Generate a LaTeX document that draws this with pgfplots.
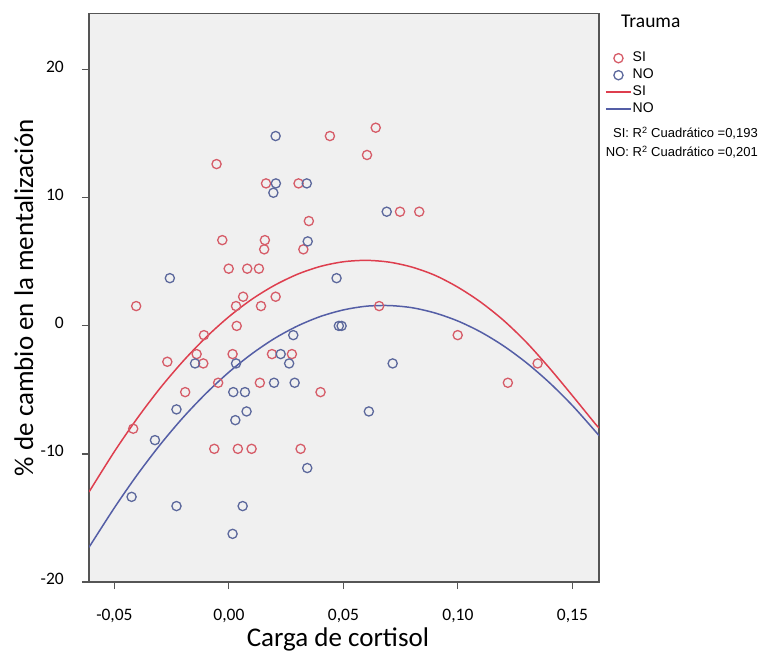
\documentclass[border=0pt]{standalone}
\usepackage{pgfplots}
\pgfplotsset{compat=1.18}
\usepackage{fontspec}
\setmainfont{Carlito}
\newfontfamily\arial{Liberation Sans}
\definecolor{ptred}{RGB}{214,92,104}
\definecolor{ptblue}{RGB}{92,104,156}
\definecolor{lnred}{RGB}{222,62,78}
\definecolor{lnblue}{RGB}{84,94,166}
\definecolor{bgc}{RGB}{240,240,240}
\definecolor{framec}{RGB}{85,85,85}
\begin{document}
\begin{tikzpicture}
\path[use as bounding box] (0,0) rectangle (759bp,654bp);
\begin{axis}[
  at={(89bp,72bp)}, anchor=south west,
  scale only axis, width=510bp, height=568.5bp,
  xmin=-0.0611, xmax=0.1616, ymin=-20, ymax=24.4,
  axis background/.style={fill=bgc},
  axis line style={framec, line width=1.1pt},
  xtick={-0.05,0,0.05,0.10,0.15},
  xticklabels={{-0,05},{0,00},{0,05},{0,10},{0,15}},
  ytick={-20,-10,0,10,20},
  yticklabels={{-20},{-10},{0},{10},{20}},
  xtick pos=bottom, ytick pos=left,
  tick align=outside, major tick length=7bp,
  tick style={framec, line width=1.1pt},
  ticklabel style={font=\fontsize{17.5bp}{20bp}\selectfont},
  xticklabel style={anchor=base, inner sep=0pt, yshift=-31bp},
  yticklabel style={anchor=east, inner sep=0pt, xshift=-18bp, yshift=3bp},
  xlabel={Carga de cortisol},
  ylabel={\% de cambio en la mentalización},
  label style={font=\fontsize{27bp}{30bp}\selectfont},
  xlabel style={at={(axis description cs:0.488,-0.1143)}, anchor=base, inner sep=0pt},
  ylabel style={at={(axis description cs:-0.1098,0.5)}, anchor=base, inner sep=0pt},
  legend image code/.code={\draw[mark repeat=2,mark phase=2,#1] plot coordinates {(0bp,0bp) (12.5bp,0bp) (25bp,0bp)};},
  legend style={at={(axis description cs:1.0118,0.934)}, anchor=north west,
    draw=none, fill=none, inner sep=0pt, row sep=3bp,
    font=\arial\fontsize{14bp}{15bp}\selectfont,
    nodes={inner sep=1bp, text height=9.5bp, text depth=2.5bp}},
  legend cell align=left,
]
\addplot[only marks, mark=o, mark size=4.6bp, mark options={ptred, line width=1.3pt}] coordinates {
(-0.0405,1.55) (-0.0418,-8.03) (-0.0269,-2.8) (-0.0191,-5.17) (-0.0141,-2.2)
(-0.0112,-2.93) (-0.0109,-0.72) (-0.0064,-9.6) (-0.0054,12.64) (-0.0047,-4.44)
(-0.0029,6.7) (-0.0001,4.47) (0.0016,-2.2) (0.0031,1.55) (0.0034,0.0)
(0.0039,-9.6) (0.0062,2.28) (0.008,4.47) (0.0099,-9.6) (0.0131,4.47)
(0.0135,-4.44) (0.014,1.55) (0.0154,5.98) (0.0157,6.7) (0.0162,11.13)
(0.0188,-2.2) (0.0204,2.28) (0.0275,-2.2) (0.0304,11.13) (0.0313,-9.6)
(0.0325,5.98) (0.0349,8.19) (0.04,-5.17) (0.0441,14.83) (0.0603,13.35)
(0.0641,15.48) (0.0656,1.55) (0.0747,8.92) (0.0831,8.92) (0.0999,-0.72)
(0.1218,-4.44) (0.1348,-2.93)
};
\addlegendentry{SI}
\addplot[only marks, mark=o, mark size=4.6bp, mark options={ptblue, line width=1.3pt}] coordinates {
(-0.0425,-13.35) (-0.0323,-8.92) (-0.0258,3.73) (-0.0229,-6.52) (-0.0229,-14.07)
(-0.0148,-2.93) (0.0016,-16.24) (0.0019,-5.17) (0.0028,-7.36) (0.0031,-2.93)
(0.006,-14.07) (0.007,-5.17) (0.0077,-6.68) (0.0194,10.4) (0.0197,-4.44)
(0.0204,14.83) (0.0205,11.13) (0.0226,-2.2) (0.0263,-2.93) (0.0281,-0.72)
(0.0287,-4.44) (0.034,11.13) (0.0342,-11.1) (0.0344,6.6) (0.047,3.73)
(0.048,0.0) (0.0492,0.0) (0.0611,-6.68) (0.0689,8.92) (0.0715,-2.93)
};
\addlegendentry{NO}
\addplot[lnred, line width=1.5pt, smooth, no marks] coordinates {
(-0.0611,-12.97) (-0.05,-9.81) (-0.04,-7.21) (-0.03,-4.85) (-0.02,-2.75)
(-0.01,-0.89) (0,0.72) (0.01,2.08) (0.02,3.18) (0.03,4.04) (0.04,4.65)
(0.05,5.01) (0.06,5.12) (0.07,4.98) (0.08,4.59) (0.09,3.95) (0.10,3.02)
(0.11,1.85) (0.12,0.42) (0.13,-1.3) (0.14,-3.3) (0.15,-5.45) (0.16,-7.65) (0.1616,-7.95)
};
\addlegendentry{SI}
\addplot[lnblue, line width=1.5pt, smooth, no marks] coordinates {
(-0.0611,-17.29) (-0.05,-14.2) (-0.04,-11.62) (-0.03,-9.27) (-0.02,-7.15)
(-0.01,-5.27) (0,-3.61) (0.01,-2.18) (0.02,-0.97) (0.03,0.0) (0.04,0.74)
(0.05,1.25) (0.06,1.54) (0.07,1.59) (0.08,1.42) (0.09,1.01) (0.10,0.38)
(0.11,-0.48) (0.12,-1.57) (0.13,-2.89) (0.14,-4.44) (0.15,-6.22) (0.16,-8.23) (0.1616,-8.57)
};
\addlegendentry{NO}
\end{axis}
\node[anchor=base west, inner sep=0pt, font=\fontsize{19.5bp}{22bp}\selectfont] at (621bp,626bp) {Trauma};
\node[anchor=base east, inner sep=0pt, font=\arial\fontsize{13bp}{14bp}\selectfont] at (758bp,516bp) {SI: R\textsuperscript{2} Cuadrático =0,193};
\node[anchor=base east, inner sep=0pt, font=\arial\fontsize{13bp}{14bp}\selectfont] at (758bp,497bp) {NO: R\textsuperscript{2} Cuadrático =0,201};
\end{tikzpicture}
\end{document}
